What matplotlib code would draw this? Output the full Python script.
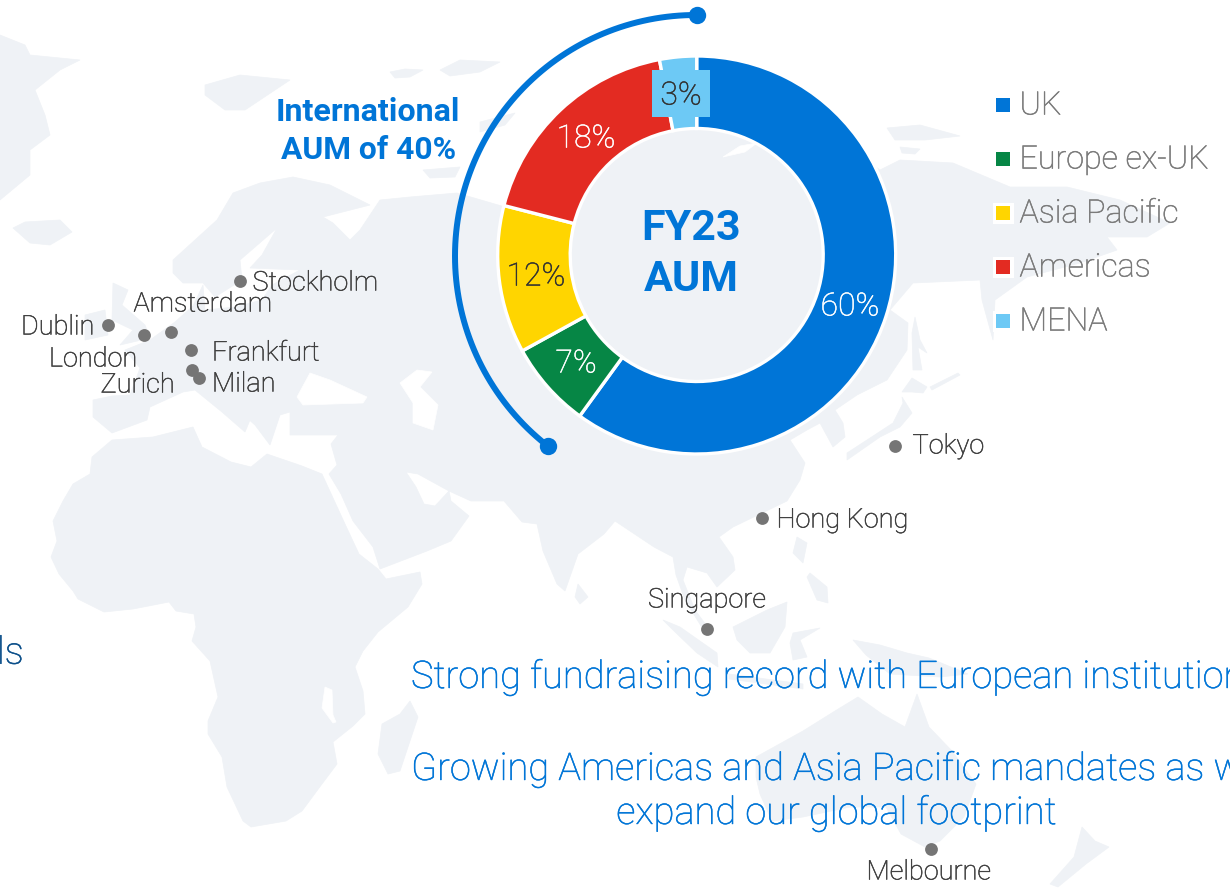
import numpy as np
import matplotlib
matplotlib.use('Agg')
import matplotlib.pyplot as plt
import matplotlib.patheffects as pe
from matplotlib.patches import Polygon, Rectangle

# donut
regions = ['UK', 'Europe ex-UK', 'Asia Pacific', 'Americas', 'MENA']
shares = [60, 7, 12, 18, 3]
share_labels = ['60%', '7%', '12%', '18%', '3%']
colours = ['#0075D7', '#068645', '#FFD500', '#E32B22', '#6DC9F5']

# offices, picture pixels
cities = ['Stockholm', 'Amsterdam', 'Dublin', 'London', 'Frankfurt', 'Zurich', 'Milan',
          'Tokyo', 'Hong Kong', 'Singapore', 'Melbourne']
city_x = [240, 171, 108, 144, 191, 192, 199, 895, 761.5, 707, 931]
city_y = [281, 332, 325, 335, 350, 370, 378, 446, 518, 629, 849]
label_x = [252.5, 133.5, 21, 49, 212, 100.5, 212, 912.5, 776.5, 648, 866.5]
label_y = [283, 304, 327, 359, 353, 385, 384, 446, 520, 600, 872]

# rough traced background map, picture pixels
eurasia = [(331, 444), (338, 435), (290, 435), (290, 412), (280, 415), (270, 445), (255, 425), (220, 394),
           (250, 420), (245, 432), (222, 412), (195, 390), (183, 392), (150, 407), (147, 420), (112, 433),
           (93, 417), (93, 400), (112, 396), (130, 395), (140, 368), (125, 350), (150, 340), (175, 322),
           (193, 306), (203, 285), (205, 310), (235, 307), (262, 300), (272, 285), (300, 270), (250, 268),
           (262, 255), (277, 228), (240, 260), (242, 280), (215, 297), (203, 283), (183, 283), (173, 273),
           (173, 260), (217, 220), (233, 193), (260, 183), (293, 177), (330, 185), (370, 205), (323, 217),
           (333, 223), (350, 240), (360, 230), (380, 200), (410, 197), (457, 193), (505, 207), (600, 130),
           (700, 110), (800, 110), (880, 170), (900, 160), (953, 163), (1010, 187), (1067, 187), (1120, 200),
           (1170, 223), (1147, 237), (1107, 237), (1117, 250), (1080, 263), (1027, 277), (995, 300), (993, 340),
           (982, 300), (980, 280), (913, 283), (890, 310), (908, 323), (907, 350), (887, 380), (857, 395),
           (835, 410), (843, 423), (845, 437), (833, 447), (820, 423), (807, 430), (790, 440), (805, 463),
           (800, 480), (787, 501), (733, 527), (719, 537), (733, 557), (735, 570), (717, 587), (707, 573),
           (687, 567), (683, 580), (695, 610), (712, 633), (706, 634), (685, 600), (676, 575), (673, 557),
           (654, 547), (615, 521), (604, 534), (578, 554), (565, 591), (557, 584), (543, 551), (537, 524),
           (522, 522), (504, 501), (471, 501), (449, 491), (418, 474), (406, 472), (416, 487), (424, 504),
           (435, 506), (449, 491), (451, 501), (469, 516), (451, 541), (427, 551), (380, 569), (373, 547),
           (353, 521), (341, 494), (329, 474), (337, 465)]
africa = [(112, 440), (92, 457), (90, 474), (73, 484), (63, 501), (53, 521), (57, 541), (51, 557), (59, 574),
          (73, 591), (78, 599), (104, 612), (133, 609), (169, 602), (176, 611), (194, 614), (196, 627),
          (192, 641), (210, 661), (218, 697), (208, 721), (208, 734), (222, 757), (227, 787), (243, 821),
          (251, 827), (286, 821), (302, 811), (322, 784), (337, 764), (333, 742), (353, 726), (365, 714),
          (363, 691), (355, 667), (363, 651), (378, 632), (408, 607), (422, 584), (420, 572), (386, 579),
          (378, 569), (359, 554), (345, 524), (322, 474), (302, 466), (267, 454), (251, 467), (231, 462),
          (202, 447), (193, 427), (153, 437)]
greenland = [(0, 35), (25, 45), (30, 55), (80, 60), (60, 70), (35, 90), (45, 115), (50, 135), (30, 150), (30, 175), (0, 200)]
iceland = [(13, 228), (25, 222), (60, 220), (72, 232), (50, 245), (30, 243)]
svalbard = [(205, 85), (240, 75), (290, 80), (260, 100), (245, 110), (225, 110), (205, 95)]
arctic_a = [(390, 72), (405, 69), (423, 70), (410, 77), (395, 78)]
arctic_f = [(440, 70), (460, 60), (500, 62), (480, 72), (450, 76)]
arctic_b = [(480, 122), (515, 113), (505, 125), (480, 132)]
arctic_c = [(423, 170), (460, 167), (455, 177), (430, 178)]
arctic_d = [(887, 128), (920, 125), (960, 136), (925, 140), (895, 140)]
arctic_e = [(900, 147), (920, 149), (915, 154), (902, 153)]
uk = [(113, 283), (128, 290), (122, 305), (145, 325), (150, 338), (120, 345), (133, 330), (112, 320)]
ireland = [(85, 315), (105, 310), (108, 335), (85, 340)]
sri_lanka = [(578, 584), (588, 597), (580, 604), (575, 597)]
madagascar = [(410, 701), (418, 717), (400, 771), (388, 774), (378, 754), (382, 724), (400, 714)]
sumatra = [(663, 620), (680, 627), (717, 653), (718, 667), (697, 653), (673, 630)]
borneo = [(733, 627), (767, 610), (787, 602), (785, 627), (770, 653), (750, 653), (737, 640)]
luzon = [(797, 537), (807, 543), (803, 563), (793, 553)]
mindanao = [(810, 573), (827, 587), (828, 603), (817, 600), (807, 577)]
sulawesi = [(793, 633), (820, 628), (800, 640), (807, 657), (793, 660), (790, 643)]
new_guinea = [(853, 640), (880, 645), (907, 653), (929, 658), (968, 674), (940, 677), (890, 674), (866, 655)]
java = [(729, 674), (803, 684), (803, 689), (729, 679)]
australia = [(756, 757), (803, 731), (835, 711), (858, 697), (882, 714), (905, 727), (917, 694), (929, 727),
             (952, 751), (976, 784), (964, 817), (940, 841), (925, 847), (901, 834), (886, 807), (850, 807),
             (803, 817), (772, 821), (760, 794), (756, 777)]
new_zealand = [(1082, 827), (1095, 841), (1109, 847), (1086, 864), (1058, 887), (1050, 884), (1074, 857)]
sakhalin = [(915, 317), (920, 340), (927, 353), (918, 347), (922, 370), (913, 370), (912, 333)]
hokkaido = [(912, 378), (927, 387), (923, 393), (912, 392), (902, 392)]
kuril = [(930, 387), (958, 373), (960, 375), (932, 390)]
honshu = [(902, 397), (912, 413), (900, 427), (880, 437), (847, 460), (847, 453), (867, 440), (893, 423), (903, 403)]
land = [eurasia, africa, greenland, iceland, svalbard, arctic_a, arctic_f, arctic_b, arctic_c, arctic_d, arctic_e,
        uk, ireland, sri_lanka, madagascar, sumatra, borneo, luzon, mindanao, sulawesi, new_guinea, java, australia,
        new_zealand, sakhalin, hokkaido, kuril, honshu]

black_sea = [(297, 397), (310, 373), (330, 380), (367, 397), (363, 403), (303, 405)]
caspian = [(400, 383), (417, 370), (432, 372), (420, 387), (438, 405), (433, 430), (413, 423), (413, 403)]
malawi = [(325, 687), (332, 690), (333, 715), (336, 722), (333, 723), (322, 708)]
bay = [(723, 157), (740, 146), (757, 143), (745, 152)]
water = [black_sea, caspian, malawi, bay]

LAND = '#EFF2F6'
BLUE = '#0075D7'
LIGHT = 'Roboto'


def light_text(x, y, s, color, size, ha='left'):
    # thin stroke, Roboto Light comes out a bit too faint otherwise
    t = top.text(x, y, s, ha=ha, va='center', color=color, fontsize=size, family=LIGHT, weight='light')
    t.set_path_effects([pe.withStroke(linewidth=0.35, foreground=color)])
    return t


fig = plt.figure(figsize=(12.3, 8.88), dpi=100)
ax = fig.add_axes([0, 0, 1, 1])
ax.set_xlim(0, 1230)
ax.set_ylim(888, 0)
ax.axis('off')
for shape in land:
    ax.add_patch(Polygon(shape, closed=True, fc=LAND, ec=LAND, lw=0.5, zorder=1))
for shape in water:
    ax.add_patch(Polygon(shape, closed=True, fc='white', ec='white', lw=0.5, zorder=2))

# donut in its own axes
cx, cy, r_out, r_in = 696.7, 255, 199, 126.5
span = r_out + 5
dax = fig.add_axes([(cx - span) / 1230, 1 - (cy + span) / 888, 2 * span / 1230, 2 * span / 888])
dax.patch.set_alpha(0)
dax.pie(shares, colors=colours, startangle=90, counterclock=False, radius=r_out,
        wedgeprops=dict(width=r_out - r_in, edgecolor='white', linewidth=2.4))
dax.set_xlim(-span, span)
dax.set_ylim(-span, span)

top = fig.add_axes([0, 0, 1, 1])
top.set_xlim(0, 1230)
top.set_ylim(888, 0)
top.axis('off')
top.patch.set_alpha(0)

# the 40% arc
theta = np.radians(np.linspace(89.8, 232.2, 200))
r_arc = 241
arc_x = 696 + r_arc * np.cos(theta)
arc_y = 256 - r_arc * np.sin(theta)
top.plot(arc_x, arc_y, color=BLUE, lw=4.3, solid_capstyle='round')
top.plot([arc_x[0], arc_x[-1]], [arc_y[0], arc_y[-1]], 'o', color=BLUE, ms=12.5, mew=0)

top.text(460, 112, 'International', ha='right', va='center', color=BLUE, fontsize=23.2, family='Roboto', weight='bold')
top.text(456, 150, 'AUM of 40%', ha='right', va='center', color=BLUE, fontsize=22.9, family='Roboto', weight='bold')
top.text(691, 228, 'FY23', ha='center', va='center', color=BLUE, fontsize=31, family='Roboto', weight='bold')
top.text(691, 279, 'AUM', ha='center', va='center', color=BLUE, fontsize=31, family='Roboto', weight='bold')

# box behind the 3% label
top.add_patch(Rectangle((652, 70), 58, 47, fc=colours[4], ec='none'))
pct_x = [850, 576, 536, 586, 681]
pct_y = [307, 364, 277, 139, 96]
pct_colours = ['white', 'white', '#333333', 'white', '#333333']
for lab, x, y, c in zip(share_labels, pct_x, pct_y, pct_colours):
    light_text(x, y, lab, c, 23, ha='center')

# legend
leg_y = [105, 159, 213, 267, 321]
for name, col, y, halo in zip(regions, colours, leg_y, [False, False, True, True, True]):
    if halo:
        top.add_patch(Rectangle((992.5, y - 10.5), 21, 21, fc='white', ec='none'))
    top.add_patch(Rectangle((996, y - 7), 14, 14, fc=col, ec='none'))
    light_text(1019.5, y + 1, name, '#7A7A7A', 23.2)

# offices
top.scatter(city_x, city_y, s=85, color='#757575', linewidths=0, zorder=5)
for name, x, y in zip(cities, label_x, label_y):
    light_text(x, y, name, '#3F3F3F', 19.5)

# text under the donut, runs off the right edge like the reference
light_text(411, 677, 'Strong fundraising record with European institutions', BLUE, 27.4)
light_text(411, 769, 'Growing Americas and Asia Pacific mandates as we', BLUE, 27.4)
light_text(836, 813, 'expand our global footprint', BLUE, 27.4, ha='center')
light_text(23.5, 653, 'ls', '#0B4F8A', 27.4, ha='right')

fig.savefig('out.png', dpi=100)
